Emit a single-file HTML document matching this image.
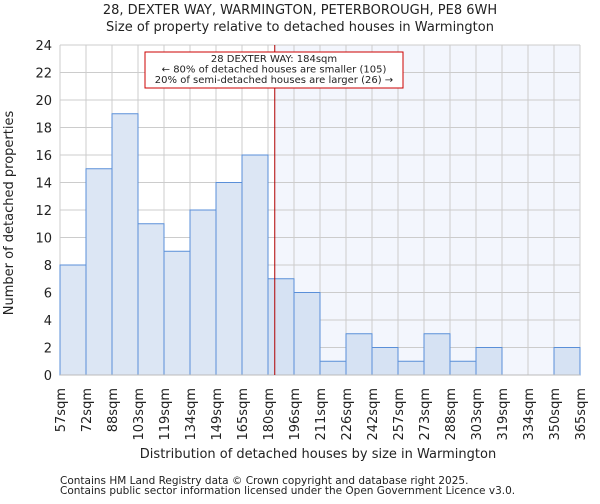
<!DOCTYPE html>
<html><head><meta charset="utf-8"><style>
body{margin:0;background:#fff;font-family:"DejaVu Sans","Liberation Sans",sans-serif}
text{font-family:"DejaVu Sans","Liberation Sans",sans-serif;fill:#222}
</style></head><body>
<svg id="chart" width="600" height="500" xmlns="http://www.w3.org/2000/svg">
<text x="300" y="14" font-size="13" text-anchor="middle">28, DEXTER WAY, WARMINGTON, PETERBOROUGH, PE8 6WH</text>
<text x="300" y="31" font-size="13" text-anchor="middle">Size of property relative to detached houses in Warmington</text>
<g id="plot"></g>
<text x="318" y="458" font-size="13" text-anchor="middle">Distribution of detached houses by size in Warmington</text>
<text transform="translate(13,213) rotate(-90)" font-size="13" text-anchor="middle">Number of detached properties</text>
<text x="60" y="484" font-size="10.5">Contains HM Land Registry data © Crown copyright and database right 2025.</text>
<text x="60" y="494" font-size="10.5">Contains public sector information licensed under the Open Government Licence v3.0.</text>
</svg>
<script>
const binLabels=["57sqm","72sqm","88sqm","103sqm","119sqm","134sqm","149sqm","165sqm","180sqm","196sqm","211sqm","226sqm","242sqm","257sqm","273sqm","288sqm","303sqm","319sqm","334sqm","350sqm","365sqm"];
const counts=[8,15,19,11,9,12,14,16,7,6,1,3,2,1,3,1,2,0,0,2];
const yTicks=[0,2,4,6,8,10,12,14,16,18,20,22,24];
const markerBin=8.26;
const annotationLines=["28 DEXTER WAY: 184sqm","← 80% of detached houses are smaller (105)","20% of semi-detached houses are larger (26) →"];
const L=60,R=580,T=45,B=375,yMax=24;
const bw=(R-L)/counts.length;
const xs=i=>L+i*bw, ys=v=>B-v/yMax*(B-T);
const ns="http://www.w3.org/2000/svg", g=document.getElementById('plot');
function mk(t,a,p){const e=document.createElementNS(ns,t);for(const k in a)e.setAttribute(k,a[k]);(p||g).appendChild(e);return e;}
const mx=xs(markerBin);
let e=mk('rect',{x:mx,y:T,width:R-mx,height:B-T,fill:'#f3f6fd'});


yTicks.forEach(v=>{
  let l=mk('line',{x1:L,x2:R,y1:ys(v),y2:ys(v),stroke:'#cccccc','stroke-width':1});
  
  
  let t=mk('text',{x:L-8,y:ys(v)+5,'font-size':13,'text-anchor':'end'});t.textContent=v;
  
  
});
binLabels.forEach((s,i)=>{
  let l=mk('line',{x1:xs(i),x2:xs(i),y1:T,y2:B,stroke:'#cccccc','stroke-width':1});
  
  
  let t=mk('text',{transform:`translate(${xs(i)+5},388) rotate(-90)`,'font-size':13,'text-anchor':'end'});t.textContent=s;
  
  
});
counts.forEach((c,i)=>{
  if(c<=0)return;
  let r=mk('rect',{x:xs(i),y:ys(c),width:bw,height:B-ys(c),fill:i<8?'#dce6f4':'#d6e2f3',stroke:'#5a8fd8','stroke-width':1});
  
  
});
let ax=mk('line',{x1:L,x2:R,y1:B,y2:B,stroke:'#bbbbbb'});


let ml=mk('line',{x1:mx,x2:mx,y1:T,y2:B,stroke:'#b00000','stroke-width':1});


let bx=mk('rect',{x:145,y:52,width:258,height:36,fill:'#fff',stroke:'#cc0000','stroke-width':1});


annotationLines.forEach((s,i)=>{
  let t=mk('text',{x:274,y:62+i*10.5,'font-size':10,'text-anchor':'middle'});t.textContent=s;
  
  
});
</script>
</body></html>
